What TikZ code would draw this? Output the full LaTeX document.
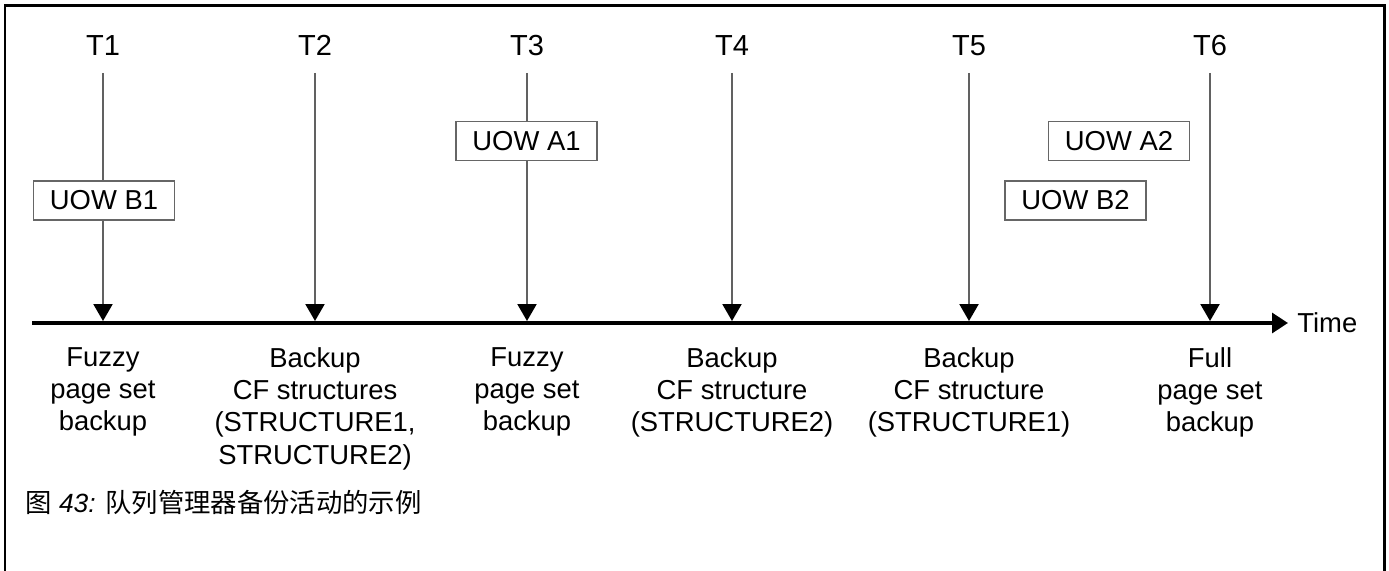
\documentclass[tikz,border=0pt]{standalone}
\usepackage{fontspec}
\setmainfont{Liberation Sans}
\newfontfamily\cjk{Noto Sans CJK SC}
\usetikzlibrary{arrows.meta}
\newcommand\figfont{\fontsize{15.6pt}{18.4pt}\selectfont}
\tikzset{
  tick/.style={draw=black!62, line width=1.1pt, -{Triangle[width=10.8pt, length=9.6pt, black]}},
  uow/.style={draw=black!60, line width=0.85pt, fill=white, inner sep=0pt,
    minimum width=80.5pt, minimum height=22.1pt, font=\figfont},
  what/.style={anchor=north, inner sep=0pt, align=center, font=\figfont},
  tname/.style={anchor=base, inner sep=0pt, font=\fontsize{16.5pt}{19pt}\selectfont}
}

\begin{document}
\begin{tikzpicture}[x=0.02cm, y=-0.02cm]
  \useasboundingbox (0,0) rectangle (1389,571);
  % frame, open at the bottom
  \draw[line width=1.7pt] (5,571) -- (5,5.5) -- (1384.5,5.5) -- (1384.5,571);

  % time axis
  \coordinate (axstart) at (32,323);
  \coordinate (axend) at (1288,323);
  \node[anchor=west, inner sep=0pt, font=\figfont] (time) at (1297,323) {Time};
  \draw[line width=2pt, -{Triangle[width=11.3pt, length=9.1pt]}] (axstart) -- (axend);

  % points in time
  \foreach \x/\n in {103/1, 315/2, 527/3, 732/4, 969/5, 1210/6} {
    \node[tname] (t\n) at (\x,56) {T\n};
    \coordinate (top\n) at (\x,73);
    \coordinate (hit\n) at (\x,321);
    \draw[tick] (top\n) -- (hit\n);
  }

  % units of work
  \node[uow] (uowb1) at (104,200.5) {UOW B1};
  \node[uow] (uowa1) at (526.5,141) {UOW A1};
  \node[uow] (uowa2) at (1119,141) {UOW A2};
  \node[uow] (uowb2) at (1075.5,200.5) {UOW B2};

  % what happens at each point
  \node[what] (w1) at (103,347) {Fuzzy\\page set\\backup};
  \node[what] (w2) at (315,347) {Backup\\CF structures\\(STRUCTURE1,\\STRUCTURE2)};
  \node[what] (w3) at (527,347) {Fuzzy\\page set\\backup};
  \node[what] (w4) at (732,347) {Backup\\CF structure\\(STRUCTURE2)};
  \node[what] (w5) at (969,347) {Backup\\CF structure\\(STRUCTURE1)};
  \node[what] (w6) at (1210,347) {Full\\page set\\backup};

  % caption
  \node[anchor=base west, inner sep=0pt, font=\fontsize{15pt}{18pt}\selectfont] (cap) at (25,512)
    {{\cjk 图} {\itshape 43:} {\cjk 队列管理器备份活动的示例}};
\end{tikzpicture}
\end{document}
